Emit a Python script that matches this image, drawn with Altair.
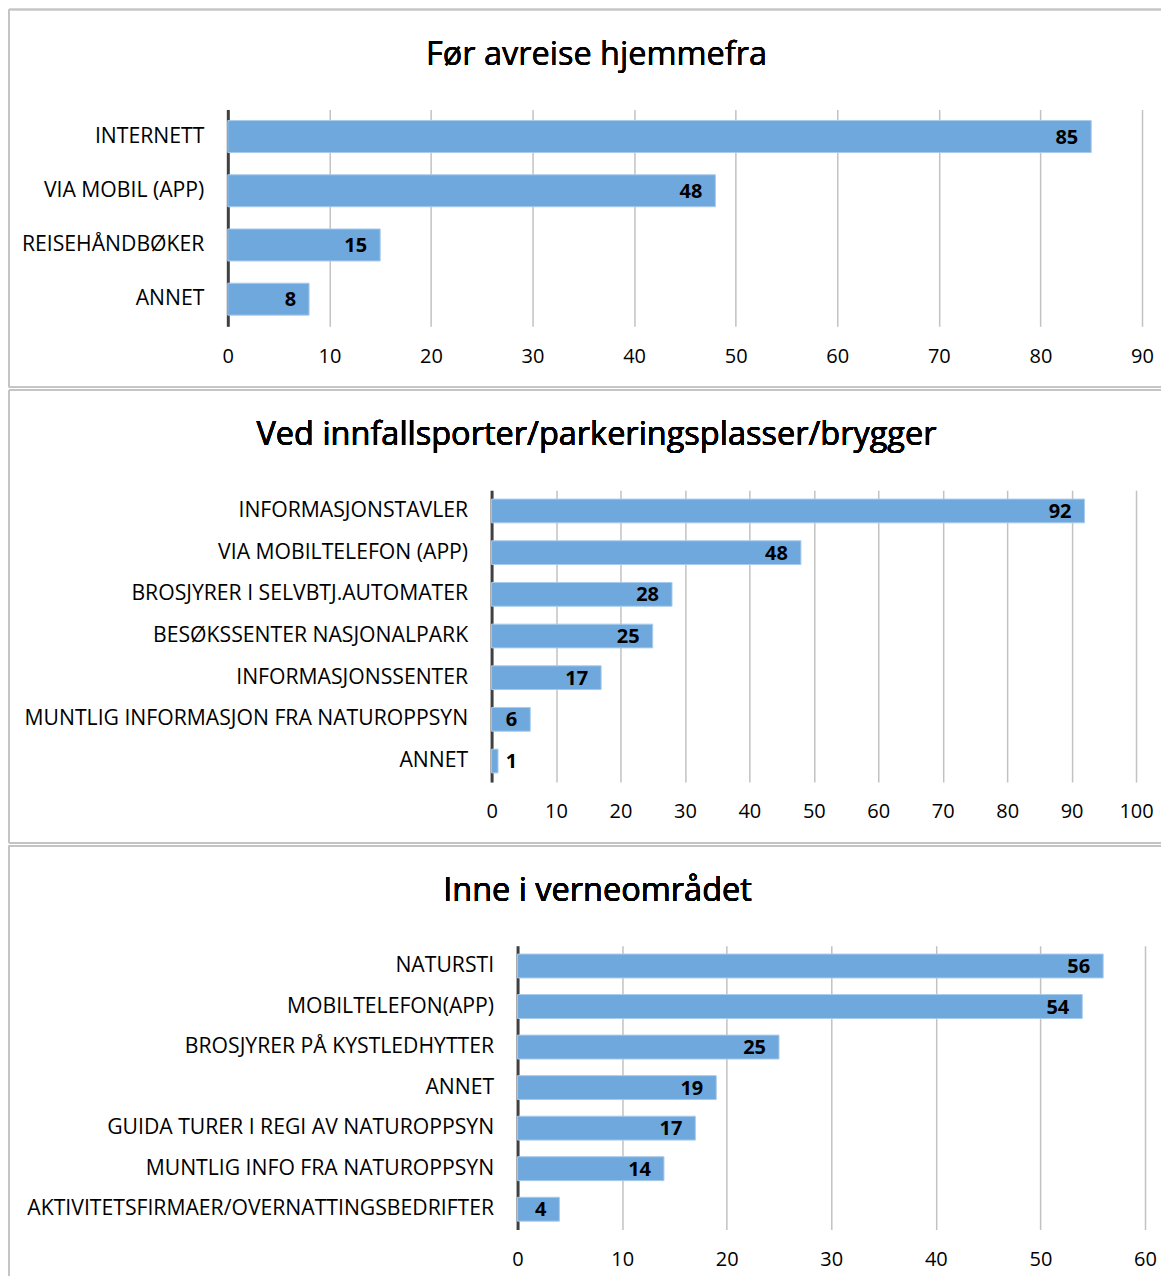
import altair as alt
import pandas as pd

title1 = "Før avreise hjemmefra"
cats1 = ["INTERNETT", "VIA MOBIL (APP)", "REISEHÅNDBØKER", "ANNET"]
vals1 = [85, 48, 15, 8]

title2 = "Ved innfallsporter/parkeringsplasser/brygger"
cats2 = ["INFORMASJONSTAVLER", "VIA MOBILTELEFON (APP)", "BROSJYRER I SELVBTJ.AUTOMATER",
         "BESØKSSENTER NASJONALPARK", "INFORMASJONSSENTER",
         "MUNTLIG INFORMASJON FRA NATUROPPSYN", "ANNET"]
vals2 = [92, 48, 28, 25, 17, 6, 1]

title3 = "Inne i verneområdet"
cats3 = ["NATURSTI", "MOBILTELEFON(APP)", "BROSJYRER PÅ KYSTLEDHYTTER", "ANNET",
         "GUIDA TURER I REGI AV NATUROPPSYN", "MUNTLIG INFO FRA NATUROPPSYN",
         "AKTIVITETSFIRMAER/OVERNATTINGSBEDRIFTER"]
vals3 = [56, 54, 25, 19, 17, 14, 4]

FONT = "Open Sans"
BAR = "#6fa8dc"
EDGE = "#c4c4c4"
W = 1153


def panel(title, cats, vals, xmax, x0, x1, height, pad, top, bot, title_x, min_lab,
          bottom=True):
    df = pd.DataFrame({"cat": cats, "val": vals})
    xs = alt.Scale(domain=[0, xmax], nice=False, range=[x0, x1])
    ys = alt.Scale(domain=cats, paddingInner=pad, paddingOuter=pad / 2)
    base = alt.Chart(df)
    edges = [
        base.mark_rule(color=EDGE, strokeWidth=1.5).encode(
            x=alt.value(0), x2=alt.value(W), y=alt.value(top), y2=alt.value(top)),
        base.mark_rule(color=EDGE, strokeWidth=1.5).encode(
            x=alt.value(0), x2=alt.value(0), y=alt.value(top), y2=alt.value(bot)),
    ]
    if bottom:
        edges.append(base.mark_rule(color=EDGE, strokeWidth=1.5).encode(
            x=alt.value(0), x2=alt.value(W), y=alt.value(bot), y2=alt.value(bot)))
    bars = base.mark_bar(color=BAR, stroke="#a9cbec", strokeWidth=1).encode(
        x=alt.X("val:Q", scale=xs, axis=alt.Axis(
            values=list(range(0, xmax + 1, 10)), grid=True, gridColor="#c2c2c2",
            gridWidth=1.5, domain=False, ticks=False, labelPadding=20,
            labelFlush=False, labelOverlap=False,
            labelFontSize=20, labelFont=FONT, labelColor="#000", title=None)),
        y=alt.Y("cat:N", scale=ys, sort=cats, axis=alt.Axis(
            domain=True, domainColor="#404040", domainWidth=3, ticks=False,
            offset=-x0, labelPadding=24, labelFontSize=21.2, labelFont=FONT,
            labelColor="#000", labelLimit=700, title=None)))
    labels = base.transform_calculate(lx=f"max(datum.val, {min_lab})").mark_text(
        align="right", baseline="middle", dx=-13, dy=1, font=FONT, fontSize=20,
        fontWeight="bold", color="#000").encode(
        x=alt.X("lx:Q", scale=xs), y=alt.Y("cat:N", scale=ys, sort=cats),
        text="val:Q")
    ttl = base.mark_text(font=FONT, fontSize=32.5, color="#000", align="center",
                         baseline="middle").encode(
        x=alt.value(title_x), y=alt.value(-55), text=alt.value(title))
    return alt.layer(*edges, bars, labels, ttl).properties(width=W, height=height)


p1 = panel(title1, cats1, vals1, 90, 219, 1134, 217, 0.41, -100, 278, 588, 0)
p2 = panel(title2, cats2, vals2, 100, 483, 1128, 292, 0.43, -100, 353, 588, 6)
p3 = panel(title3, cats3, vals3, 60, 509, 1137, 284, 0.41, -100, 330, 589, 0,
           bottom=False)

chart = alt.vconcat(p1, p2, p3, spacing=1).properties(
    padding={"top": 0, "left": 0, "right": 0, "bottom": 0}
).configure_view(stroke=None)

chart.save("out.html", embed_options={"renderer": "svg", "actions": False})
